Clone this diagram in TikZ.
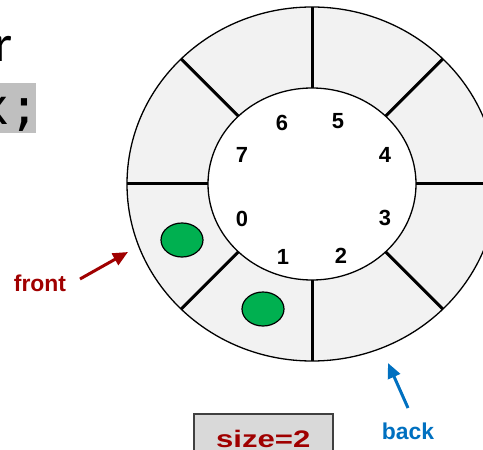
\documentclass[tikz,border=0pt]{standalone}
\usepackage{fontspec}
\setmainfont{Liberation Sans}
\setmonofont{DejaVu Sans Mono}
\newfontfamily\calibri{Carlito}
\usetikzlibrary{arrows.meta, positioning, calc, shapes.geometric}

\definecolor{ringgray}{HTML}{F2F2F2}
\definecolor{codegray}{HTML}{BFBFBF}
\definecolor{sizegray}{HTML}{D9D9D9}
\definecolor{frontred}{HTML}{A00000}
\definecolor{backblue}{HTML}{0070C0}
\definecolor{slotgreen}{HTML}{00B050}

\begin{document}
\begin{tikzpicture}[x=1bp, y=-1bp,
    divider/.style={line width=3bp},
    idx/.style={font=\bfseries\fontsize{22}{22}\selectfont, inner sep=0pt},
    item/.style={ellipse, draw=black, line width=1.2bp, fill=slotgreen,
                 minimum width=42bp, minimum height=34bp, inner sep=0pt},
    lbl/.style={font=\bfseries\fontsize{23}{23}\selectfont, inner sep=0pt},
    ptr/.style={line width=3bp, -{Triangle[length=15bp, width=13bp]}}]
  \clip (0,0) rectangle (483,450);

  % code line behind the ring
  \node[anchor=base east, inner sep=0pt, font=\calibri\fontsize{52}{52}\selectfont] (rtext) at (13,62) {r};
  \fill[codegray] (-5,83) rectangle (36,133);
  \node[anchor=base east, inner sep=0pt, font=\ttfamily\fontsize{50}{50}\selectfont] (code) at (40,125) {x;};

  % the ring buffer, 8 slots
  \coordinate (c) at (312,184);
  \draw[line width=1.3bp, fill=ringgray] (c) ellipse [x radius=185, y radius=177];
  \draw[line width=1.3bp, fill=white] (c) ellipse [x radius=104, y radius=96];
  \foreach \a in {0,45,...,315}
    \draw[divider] ($(c)+({104*cos(\a)},{96*sin(\a)})$) -- ($(c)+({185*cos(\a)},{177*sin(\a)})$);

  % slot numbers
  \foreach \i/\x/\y in {0/242/219, 1/283/257, 2/341/256, 3/385/218,
                        4/385/155, 5/338/121, 6/282/123, 7/242/155}
    \node[idx] (i\i) at (\x,\y) {\i};

  % stored items
  \node[item] (a0) at (182,240) {};
  \node[item] (a1) at (263,309) {};

  % front and back pointers
  \node[lbl, text=frontred] (front) at (40,283) {front};
  \coordinate (fronttail) at (80,279);
  \coordinate (fronttip) at (128,252);
  \draw[ptr, frontred] (fronttail) -- (fronttip);

  \node[lbl, text=backblue] (back) at (408,431) {back};
  \coordinate (backtail) at (408,408);
  \coordinate (backtip) at (388,363);
  \draw[ptr, backblue] (backtail) -- (backtip);

  % element count
  \node[draw=black!75, line width=1.5bp, fill=sizegray, anchor=north west,
        minimum width=139bp, minimum height=50bp, inner sep=0pt,
        text=frontred, font=\bfseries\fontsize{24}{24}\selectfont] (size) at (193,413)
        {\scalebox{1.3}[1]{size=2}};
\end{tikzpicture}
\end{document}
